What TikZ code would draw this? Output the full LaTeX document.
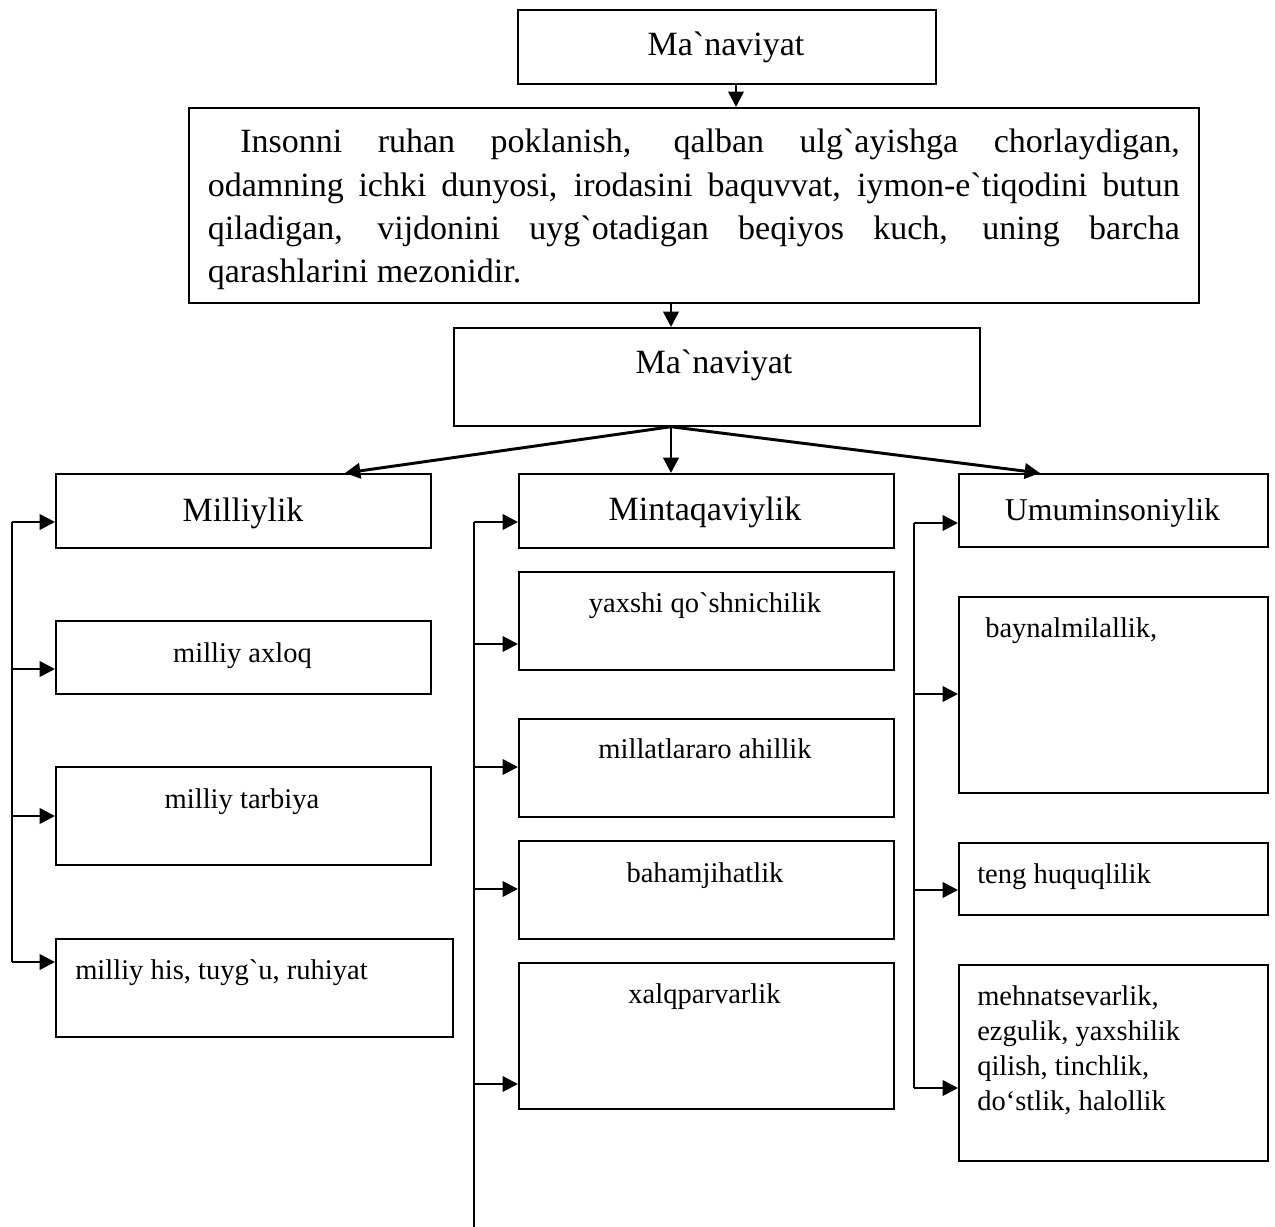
\documentclass[tikz,border=0pt]{standalone}
\usepackage{fontspec}
\newfontfamily\tnr{Liberation Serif}
\usetikzlibrary{arrows.meta}
\newcommand\bx[5]{\node[box, minimum width={(#4-#2)*0.75pt}, minimum height={(#5-#3)*0.75pt}] (#1) at (#2,#3) {};}
\begin{document}
\begin{tikzpicture}[x=0.75pt,y=-0.75pt,
  box/.style={draw, rectangle, line width=1.3pt, inner sep=0pt, anchor=north west},
  bigtxt/.style={font=\tnr\fontsize{25.5}{32.5}\selectfont, inner sep=0pt},
  midtxt/.style={font=\tnr\fontsize{23.8}{30}\selectfont, inner sep=0pt},
  smtxt/.style={font=\tnr\fontsize{21.4}{26.25}\selectfont, inner sep=0pt},
  arr/.style={line width=2pt, -{Triangle[length=11.5pt,width=11.5pt]}},
  fan/.style={line width=2.2pt, -{Triangle[length=11.5pt,width=11.5pt]}},
  bus/.style={line width=1.6pt}]
\useasboundingbox (0,0) rectangle (1275,1227);
% boxes
\bx{top}{517}{9}{935}{83}
\bx{big}{188}{107}{1198}{302}
\bx{mid}{453}{327}{979}{425}
\bx{mil}{55}{473}{430}{547}
\bx{axl}{55}{620}{430}{693}
\bx{tar}{55}{766}{430}{864}
\bx{his}{55}{938}{452}{1036}
\bx{min}{518}{473}{893}{547}
\bx{yax}{518}{571}{893}{669}
\bx{aht}{518}{718}{893}{816}
\bx{bah}{518}{840}{893}{938}
\bx{xal}{518}{962}{893}{1108}
\bx{umu}{958}{473}{1267}{546}
\bx{bay}{958}{596}{1267}{792}
\bx{ten}{958}{842}{1267}{914}
\bx{meh}{958}{964}{1267}{1160}
% texts
\node[bigtxt, anchor=base] (topt) at (726,56) {Ma`naviyat};
\node[bigtxt, anchor=base west] (bigt) at (207.5,153) {\parbox[t]{729pt}{\hspace*{24.4pt}Insonni ruhan poklanish, qalban ulg`ayishga chorlaydigan,\linebreak odamning ichki dunyosi, irodasini baquvvat, iymon-e`tiqodini butun\linebreak qiladigan, vijdonini uyg`otadigan beqiyos kuch, uning barcha\linebreak qarashlarini mezonidir.}};
\node[bigtxt, anchor=base] (midt) at (714,373) {Ma`naviyat};
\node[bigtxt, anchor=base] (milt) at (243,521) {Milliylik};
\node[smtxt, anchor=base] (axlt) at (242.5,662) {milliy axloq};
\node[smtxt, anchor=base] (tart) at (242,808) {milliy tarbiya};
\node[smtxt, anchor=base west] (hist) at (75,979) {milliy his, tuyg`u, ruhiyat};
\node[bigtxt, anchor=base] (mint) at (705,520) {Mintaqaviylik};
\node[smtxt, anchor=base] (yaxt) at (705,612) {yaxshi qo`shnichilik};
\node[smtxt, anchor=base] (ahtt) at (705,758) {millatlararo ahillik};
\node[smtxt, anchor=base] (baht) at (705,882) {bahamjihatlik};
\node[smtxt, anchor=base] (xalt) at (704.5,1003) {xalqparvarlik};
\node[midtxt, anchor=base] (umut) at (1112.5,520) {Umuminsoniylik};
\node[smtxt, anchor=base west] (bayt) at (985,637) {baynalmilallik,};
\node[smtxt, anchor=base west] (tent) at (977,883) {teng huquqlilik};
\node[smtxt, anchor=base west] (meht) at (977,1005) {\parbox[t]{250pt}{\raggedright mehnatsevarlik,\\ezgulik, yaxshilik\\qilish, tinchlik,\\do‘stlik, halollik}};
% top arrows
\coordinate (a1) at (736,0);
\coordinate (a2) at (671,0);
\draw[arr] (a1 |- top.south) -- (a1 |- big.north);
\draw[arr] (a2 |- big.south) -- (a2 |- mid.north);
% fan
\coordinate (fl) at (345,0);
\coordinate (fr) at (1040,0);
\draw[fan] (a2 |- mid.south) -- (fl |- mil.north);
\draw[fan] (a2 |- mid.south) -- (a2 |- min.north);
\draw[fan] (a2 |- mid.south) -- (fr |- umu.north);
% left bus
\coordinate (l1) at (12,522);
\coordinate (l2) at (12,669);
\coordinate (l3) at (12,816);
\coordinate (l4) at (12,962);
\draw[bus] (l1) -- (l4);
\draw[arr] (l1) -- (l1 -| mil.west);
\draw[arr] (l2) -- (l2 -| axl.west);
\draw[arr] (l3) -- (l3 -| tar.west);
\draw[arr] (l4) -- (l4 -| his.west);
% center bus
\coordinate (c1) at (474,522);
\coordinate (c2) at (474,644);
\coordinate (c3) at (474,767);
\coordinate (c4) at (474,889);
\coordinate (c5) at (474,1084);
\coordinate (c6) at (474,1227);
\draw[bus] (c1) -- (c6);
\draw[arr] (c1) -- (c1 -| min.west);
\draw[arr] (c2) -- (c2 -| yax.west);
\draw[arr] (c3) -- (c3 -| aht.west);
\draw[arr] (c4) -- (c4 -| bah.west);
\draw[arr] (c5) -- (c5 -| xal.west);
% right bus
\coordinate (r1) at (914,523);
\coordinate (r2) at (914,694);
\coordinate (r3) at (914,890);
\coordinate (r4) at (914,1088);
\draw[bus] (r1) -- (r4);
\draw[arr] (r1) -- (r1 -| umu.west);
\draw[arr] (r2) -- (r2 -| bay.west);
\draw[arr] (r3) -- (r3 -| ten.west);
\draw[arr] (r4) -- (r4 -| meh.west);
\end{tikzpicture}
\end{document}
